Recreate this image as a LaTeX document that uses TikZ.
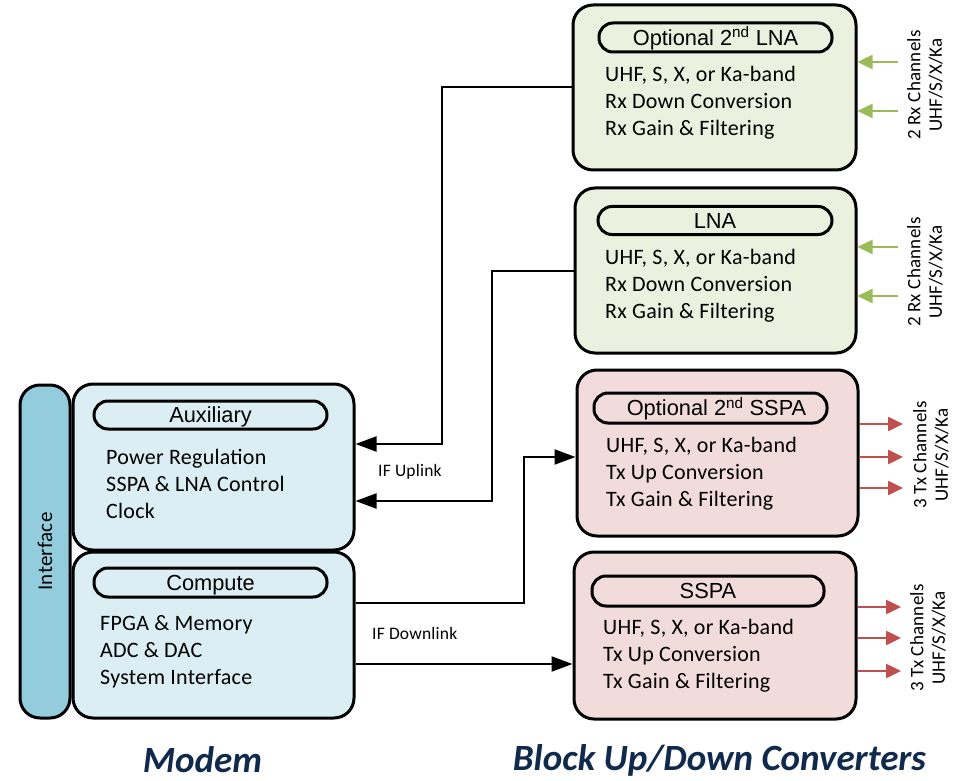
\documentclass[tikz,border=0pt]{standalone}
\usepackage{fontspec}
\setmainfont{Carlito}
\newfontfamily\bodyfont{Carlito}[LetterSpace=1.2]
\newfontfamily\headfont{Liberation Sans}
\usetikzlibrary{arrows.meta}

\definecolor{rxfill}{HTML}{EBF1DE}
\definecolor{txfill}{HTML}{F2DCDB}
\definecolor{modemfill}{HTML}{DBEEF4}
\definecolor{ifacefill}{HTML}{93CDDD}
\definecolor{rxarrow}{HTML}{9BBB59}
\definecolor{txarrow}{HTML}{C0504D}
\definecolor{titleblue}{HTML}{0F2A4C}

\begin{document}
\begin{tikzpicture}[x=1pt,y=-1pt,
  box/.style={draw=black, line width=3pt, rounded corners=20pt, inner sep=0pt},
  pill/.style={draw=black, line width=3pt, rounded corners=14pt, inner sep=0pt,
    minimum width=233pt, text height=15.6pt, text depth=0pt,
    font=\headfont\fontsize{21.8}{25}\selectfont},
  body/.style={align=left, anchor=west, inner sep=0pt, font=\bodyfont\fontsize{22}{27}\selectfont},
  conn/.style={draw=black, line width=2pt, -{Triangle[length=21pt,width=15pt]}},
  rxarr/.style={draw=rxarrow, line width=2.5pt, -{Triangle[length=15pt,width=14pt]}},
  txarr/.style={draw=txarrow, line width=2.5pt, -{Triangle[length=15pt,width=14pt]}},
  chan/.style={rotate=90, align=center, inner sep=0pt, font=\bodyfont\fontsize{19}{21.5}\selectfont},
  iflabel/.style={anchor=west, inner sep=0pt, font=\bodyfont\fontsize{17.5}{20}\selectfont},
  title/.style={inner sep=0pt, text=titleblue, font=\bfseries\itshape\fontsize{37}{40}\selectfont}
]
\useasboundingbox (0,0) rectangle (962,781);

% ---------------- Modem ----------------
\node[box, fill=ifacefill, minimum width=50pt, minimum height=333pt] (iface) at (45,551.5) {};
\node[rotate=90, inner sep=0pt, font=\bodyfont\fontsize{21}{25}\selectfont] (ifacetext) at (iface.center) {Interface};

\node[box, fill=modemfill, minimum width=281pt, minimum height=166pt] (aux) at (213.5,467) {};
\node[pill, minimum height=28pt] (auxhead) at (210.5,415) {Auxiliary};
\node[body] (auxtext) at (106,484) {Power Regulation\\SSPA \& LNA Control\\Clock};

\node[box, fill=modemfill, minimum width=281pt, minimum height=166pt] (compute) at (213.5,635) {};
\node[pill, minimum height=29pt] (comphead) at (210.5,582.5) {Compute};
\node[body] (comptext) at (100,651.5) {FPGA \& Memory\\ADC \& DAC\\System Interface};

% ---------------- Receive chain ----------------
\node[box, fill=rxfill, minimum width=283pt, minimum height=165pt] (optlna) at (714.5,87.5) {};
\node[pill, minimum height=29pt] (optlnahead) at (715.5,37.5) {Optional 2\textsuperscript{nd} LNA};
\node[body] (optlnatext) at (605,103) {UHF, S, X, or Ka-band\\Rx Down Conversion\\Rx Gain \& Filtering};

\node[box, fill=rxfill, minimum width=281pt, minimum height=165pt] (lna) at (715.5,270.5) {};
\node[pill, minimum height=28pt, minimum width=234pt] (lnahead) at (715,220.5) {LNA};
\node[body] (lnatext) at (605,286) {UHF, S, X, or Ka-band\\Rx Down Conversion\\Rx Gain \& Filtering};

% ---------------- Transmit chain ----------------
\node[box, fill=txfill, minimum width=281pt, minimum height=166pt] (optsspa) at (717.5,453) {};
\node[pill, minimum height=30pt] (optsspahead) at (710.5,408) {\hspace*{12pt}Optional 2\textsuperscript{nd} SSPA};
\node[body] (optsspatext) at (606,474) {UHF, S, X, or Ka-band\\Tx Up Conversion\\Tx Gain \& Filtering};

\node[box, fill=txfill, minimum width=282pt, minimum height=167pt] (sspa) at (715,635.5) {};
\node[pill, minimum height=30pt, minimum width=232pt] (sspahead) at (708,591) {SSPA};
\node[body] (sspatext) at (603,656) {UHF, S, X, or Ka-band\\Tx Up Conversion\\Tx Gain \& Filtering};

% ---------------- IF connections ----------------
\coordinate (up1) at (442,444);
\coordinate (up2) at (492,501);
\coordinate (dn1) at (524,603);
\coordinate (dn1t) at (524,457);
\coordinate (dn2) at (500,664);
\draw[conn] (optlna.west) -| (up1) -- (aux.east |- up1);
\draw[conn] (lna.west) -| (up2) -- (aux.east |- up2);
\draw[conn] (compute.east |- dn1) -| (dn1t) -- (optsspa.west |- dn1t);
\draw[conn] (compute.east |- dn2) -- (sspa.west |- dn2);
\node[iflabel] (uplabel) at (378,472) {IF Uplink};
\node[iflabel] (dnlabel) at (372,633) {IF Downlink};

% ---------------- RF channels ----------------
\coordinate (rxa1) at (898,62);
\coordinate (rxa2) at (898,111);
\coordinate (rxb1) at (898,247);
\coordinate (rxb2) at (898,296);
\draw[rxarr] (rxa1) -- (optlna.east |- rxa1);
\draw[rxarr] (rxa2) -- (optlna.east |- rxa2);
\draw[rxarr] (rxb1) -- (lna.east |- rxb1);
\draw[rxarr] (rxb2) -- (lna.east |- rxb2);
\node[chan] (rxalabel) at (925,85) {2 Rx Channels\\UHF/S/X/Ka};
\node[chan] (rxblabel) at (925,272) {2 Rx Channels\\UHF/S/X/Ka};

\coordinate (txa1) at (903,424);
\coordinate (txa2) at (903,457);
\coordinate (txa3) at (903,488);
\coordinate (txb1) at (901,607);
\coordinate (txb2) at (901,638);
\coordinate (txb3) at (901,671);
\draw[txarr] (optsspa.east |- txa1) -- (txa1);
\draw[txarr] (optsspa.east |- txa2) -- (txa2);
\draw[txarr] (optsspa.east |- txa3) -- (txa3);
\draw[txarr] (sspa.east |- txb1) -- (txb1);
\draw[txarr] (sspa.east |- txb2) -- (txb2);
\draw[txarr] (sspa.east |- txb3) -- (txb3);
\node[chan] (txalabel) at (931,455) {3 Tx Channels\\UHF/S/X/Ka};
\node[chan] (txblabel) at (928,638) {3 Tx Channels\\UHF/S/X/Ka};

% ---------------- Group titles ----------------
\node[title] (modemtitle) at (202.5,760) {Modem};
\node[title] (bductitle) at (719.5,760) {Block Up/Down Converters};
\end{tikzpicture}
\end{document}
